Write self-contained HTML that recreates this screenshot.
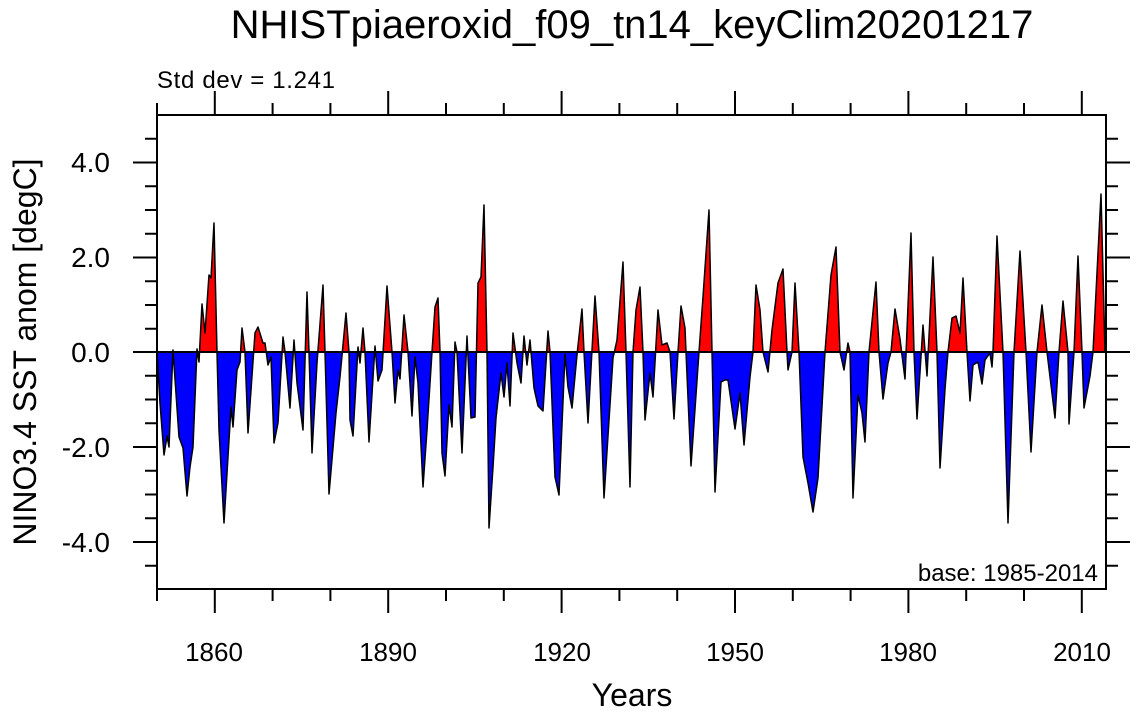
<!DOCTYPE html><html><head><style>body{margin:0;background:#fff}svg{display:block}text{font-family:"Liberation Sans",sans-serif}</style></head><body>
<svg width="1137" height="714" viewBox="0 0 1137 714">
<defs>
<clipPath id="up"><rect x="150" y="100" width="970" height="252"/></clipPath>
<clipPath id="dn"><rect x="150" y="352" width="970" height="250"/></clipPath>
<polygon id="poly" points="157,352 160,403 164,455 167,436 169,447 173,350 179,437 183,448 187,496 190,467 193,447 197,349 199,362 202,304 205,333 209,275 211,278 214,223 217,352 219,430 224,523 231,407 233,427 237,370 240,362 242,328 245,352 248,433 255,333 258,327 263,343 265,343 268,365 271,357 274,443 278,423 283,337 285,352 290,408 294,340 297,383 303,430 307,292 309,352 312,453 317,363 323,285 325,352 329,494 336,413 340,377 346,313 349,352 350,420 353,436 358,347 360,363 363,328 365,352 369,442 375,346 378,381 382,370 387,286 392,352 395,403 398,370 400,379 404,315 408,352 412,416 415,357 418,383 423,487 427,430 432,352 435,307 438,298 440,352 442,453 445,476 449,405 452,427 455,342 457,352 462,453 467,336 471,418 475,417 478,283 481,277 484,205 487,352 489,528 493,467 496,418 501,373 504,397 507,363 510,406 513,333 517,363 521,383 524,336 527,365 530,340 534,388 538,406 543,411 548,331 550,352 555,477 559,495 565,354 568,387 572,408 577,355 582,309 584,352 588,423 595,296 599,352 604,498 613,358 617,340 623,262 626,352 630,487 633,352 636,310 640,287 643,352 645,420 650,373 653,397 658,310 662,345 667,343 670,352 674,419 678,352 681,306 685,328 686,352 691,466 699,352 703,297 709,210 712,352 715,492 721,382 725,380 728,380 735,429 740,393 744,445 750,377 753,352 756,285 760,310 763,352 768,372 772,330 778,283 783,269 787,352 788,370 792,352 795,283 799,352 803,457 808,483 813,512 818,478 825,352 831,275 836,247 840,352 844,370 848,343 850,352 853,498 858,395 862,413 865,442 869,352 876,282 879,352 883,399 888,363 891,352 895,309 900,339 905,379 911,233 914,352 917,419 923,325 927,376 933,257 937,352 940,468 945,389 948,352 952,318 956,316 960,333 963,278 967,352 970,401 973,365 978,362 982,384 985,360 990,353 992,367 993,352 997,236 1003,352 1008,523 1014,352 1020,251 1026,352 1031,452 1037,352 1042,305 1047,352 1055,418 1059,352 1063,301 1068,352 1069,424 1074,352 1078,256 1082,352 1084,408 1090,376 1093,352 1101,194 1105,352"/>
</defs>
<use href="#poly" fill="#ff0000" clip-path="url(#up)"/>
<use href="#poly" fill="#0000ff" clip-path="url(#dn)"/>
<use href="#poly" fill="none" stroke="#000" stroke-width="1.5" stroke-linejoin="round"/>
<line x1="157" y1="352" x2="1106" y2="352" stroke="#000" stroke-width="2"/>
<rect x="157" y="115" width="949" height="474" fill="none" stroke="#000" stroke-width="2"/>
<path stroke="#000" stroke-width="2" fill="none" d="
M133 162.5H157M145 138.8H157M145 186.3H157M145 210H157M145 233.8H157M133 257.5H157M145 281.3H157M145 305H157M145 328.8H157M133 352H157M145 375.8H157M145 399.5H157M145 423.3H157M133 447H157M145 470.8H157M145 494.5H157M145 518.3H157M133 542H157M145 565.8H157
M1106 162.5H1130M1106 138.8H1118M1106 186.3H1118M1106 210H1118M1106 233.8H1118M1106 257.5H1130M1106 281.3H1118M1106 305H1118M1106 328.8H1118M1106 352H1130M1106 375.8H1118M1106 399.5H1118M1106 423.3H1118M1106 447H1130M1106 470.8H1118M1106 494.5H1118M1106 518.3H1118M1106 542H1130M1106 565.8H1118
M157 589V601M214.8 589V613M272.6 589V601M330.4 589V601M388.2 589V613M446 589V601M503.8 589V601M561.6 589V613M619.4 589V601M677.2 589V601M735 589V613M792.8 589V601M850.6 589V601M908.4 589V613M966.2 589V601M1024 589V601M1081.8 589V613
M157 115V103M214.8 115V91M272.6 115V103M330.4 115V103M388.2 115V91M446 115V103M503.8 115V103M561.6 115V91M619.4 115V103M677.2 115V103M735 115V91M792.8 115V103M850.6 115V103M908.4 115V91M966.2 115V103M1024 115V103M1081.8 115V91"/>
<text x="632" y="38" font-size="40" text-anchor="middle">NHISTpiaeroxid_f09_tn14_keyClim20201217</text>
<text x="157" y="88" font-size="24" textLength="178">Std dev = 1.241</text>
<text x="1098" y="581" font-size="24" text-anchor="end">base: 1985-2014</text>
<g font-size="28" text-anchor="end">
<text x="110" y="172">4.0</text><text x="110" y="267">2.0</text><text x="110" y="362">0.0</text><text x="110" y="457">-2.0</text><text x="110" y="552">-4.0</text>
</g>
<g font-size="26" text-anchor="middle">
<text x="214" y="661">1860</text><text x="388" y="661">1890</text><text x="562" y="661">1920</text><text x="735" y="661">1950</text><text x="908" y="661">1980</text><text x="1082" y="661">2010</text>
</g>
<text x="632" y="706" font-size="32" text-anchor="middle">Years</text>
<text transform="translate(36,352) rotate(-90)" font-size="32" text-anchor="middle">NINO3.4 SST anom [degC]</text>
</svg></body></html>
